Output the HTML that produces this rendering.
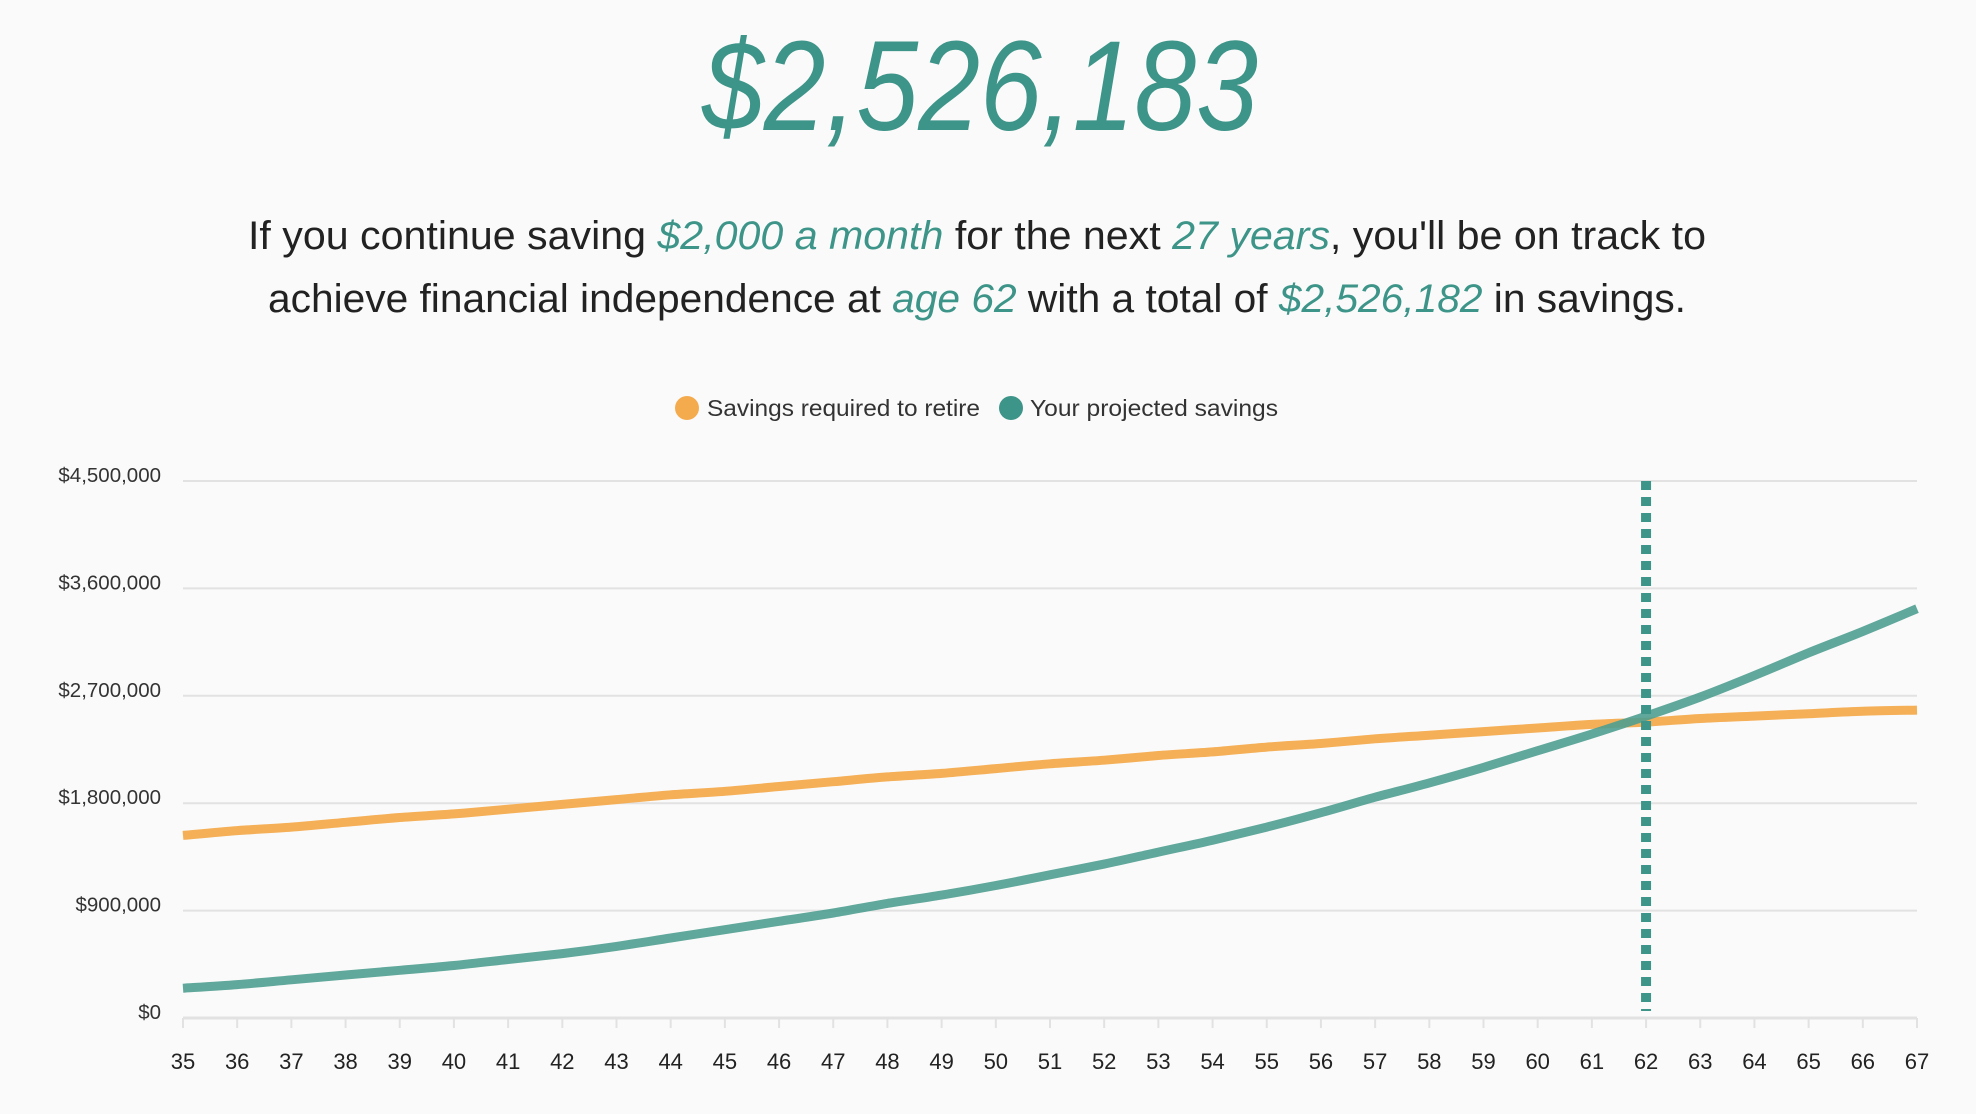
<!DOCTYPE html>
<html><head><meta charset="utf-8"><style>
html,body{margin:0;padding:0;background:#fafafa;}
svg{display:block;}
</style></head><body>
<svg width="1976" height="1114" viewBox="0 0 1976 1114" xmlns="http://www.w3.org/2000/svg" font-family="'Liberation Sans', sans-serif">
<rect width="1976" height="1114" fill="#fafafa"/>
<text x="980" y="130" text-anchor="middle" font-size="128" font-style="italic" fill="#3d9488" textLength="556" lengthAdjust="spacingAndGlyphs">$2,526,183</text>
<text x="977" y="249" text-anchor="middle" font-size="40" fill="#222" textLength="1458" lengthAdjust="spacingAndGlyphs">If you continue saving <tspan fill="#3d9488" font-style="italic">$2,000 a month</tspan> for the next <tspan fill="#3d9488" font-style="italic">27 years</tspan>, you'll be on track to</text>
<text x="977" y="312" text-anchor="middle" font-size="40" fill="#222" textLength="1418" lengthAdjust="spacingAndGlyphs">achieve financial independence at <tspan fill="#3d9488" font-style="italic">age 62</tspan> with a total of <tspan fill="#3d9488" font-style="italic">$2,526,182</tspan> in savings.</text>
<g>
<circle cx="687" cy="408" r="12" fill="#f4ab4e"/>
<text x="707" y="416" font-size="23" fill="#333" textLength="273" lengthAdjust="spacingAndGlyphs">Savings required to retire</text>
<circle cx="1011" cy="408" r="12" fill="#3d9488"/>
<text x="1030" y="416" font-size="23" fill="#333" textLength="248" lengthAdjust="spacingAndGlyphs">Your projected savings</text>
</g>
<g id="grid"></g><g id="axes"></g><g id="marks"></g>
</svg>
<script>
const ages = [35,36,37,38,39,40,41,42,43,44,45,46,47,48,49,50,51,52,53,54,55,56,57,58,59,60,61,62,63,64,65,66,67];
const requiredSavings = [1.53,1.57,1.60,1.64,1.68,1.71,1.75,1.79,1.83,1.87,1.90,1.94,1.98,2.02,2.05,2.09,2.13,2.16,2.20,2.23,2.27,2.30,2.34,2.37,2.40,2.43,2.46,2.48,2.51,2.53,2.55,2.57,2.58];
const projectedSavings = [0.25,0.28,0.32,0.36,0.40,0.44,0.49,0.54,0.60,0.67,0.74,0.81,0.88,0.96,1.03,1.11,1.20,1.29,1.39,1.49,1.60,1.72,1.85,1.97,2.10,2.24,2.38,2.53,2.69,2.87,3.06,3.24,3.43];
const yTicks = [0,0.9,1.8,2.7,3.6,4.5];
const yTickLabels = ["$0","$900,000","$1,800,000","$2,700,000","$3,600,000","$4,500,000"];
const retireAge = [62];

const NS="http://www.w3.org/2000/svg";
const X0=183,X1=1917,Y0=1018,Y1=481;
const xs=a=>X0+(a-ages[0])/(ages[ages.length-1]-ages[0])*(X1-X0);
const ys=v=>Y0-v/4.5*(Y0-Y1);
function mk(tag,attrs,parent){const e=document.createElementNS(NS,tag);for(const k in attrs)e.setAttribute(k,attrs[k]);parent.appendChild(e);return e;}
const grid=document.getElementById('grid'),axes=document.getElementById('axes'),marks=document.getElementById('marks');
yTicks.forEach((v,i)=>{
  const l=mk('line',{x1:X0,x2:X1,y1:ys(v),y2:ys(v),stroke:'#e2e2e2','stroke-width':i===0?3:2},grid);
  
  
  const t=mk('text',{x:161,y:ys(v)+1,'text-anchor':'end','font-size':20.5,fill:'#333'},axes);
  t.textContent=yTickLabels[i];
  
  
});
ages.forEach(a=>{
  const tk=mk('line',{x1:xs(a),x2:xs(a),y1:Y0,y2:Y0+10,stroke:'#e2e2e2','stroke-width':2},axes);
  
  
  const t=mk('text',{x:xs(a),y:1069,'text-anchor':'middle','font-size':22,fill:'#222'},axes);
  t.textContent=a;
  
  
});
function path(vals){
  const P=vals.map((v,i)=>[xs(ages[i]),ys(v)]);
  let d='M'+P[0][0].toFixed(1)+','+P[0][1].toFixed(1);
  for(let i=0;i<P.length-1;i++){
    const p0=P[Math.max(0,i-1)],p1=P[i],p2=P[i+1],p3=P[Math.min(P.length-1,i+2)];
    const c1=[p1[0]+(p2[0]-p0[0])/6,p1[1]+(p2[1]-p0[1])/6];
    const c2=[p2[0]-(p3[0]-p1[0])/6,p2[1]-(p3[1]-p1[1])/6];
    d+=' C'+c1[0].toFixed(1)+','+c1[1].toFixed(1)+' '+c2[0].toFixed(1)+','+c2[1].toFixed(1)+' '+p2[0].toFixed(1)+','+p2[1].toFixed(1);
  }
  return d;
}
const p1=mk('path',{d:path(requiredSavings),fill:'none',stroke:'#f4ab4e','stroke-width':9,'stroke-linejoin':'round',opacity:0.95},marks);


const p2=mk('path',{d:path(projectedSavings),fill:'none',stroke:'#4f9e90','stroke-width':9,'stroke-linejoin':'round',opacity:0.9},marks);


const rl=mk('line',{x1:xs(retireAge[0]),x2:xs(retireAge[0]),y1:Y1,y2:Y0-7,stroke:'#3d9488','stroke-width':10,'stroke-dasharray':'9 7'},marks);


</script>
</body></html>
